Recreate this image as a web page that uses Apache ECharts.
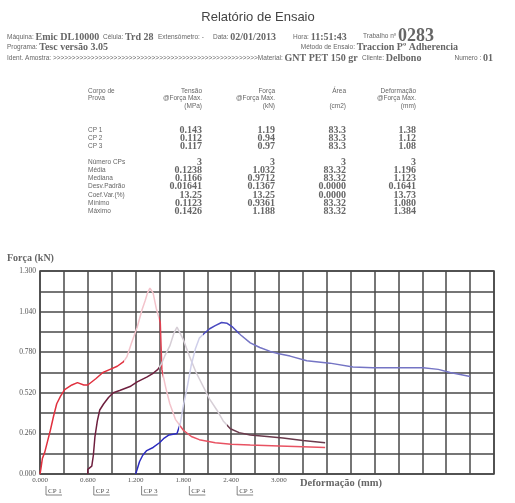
<!DOCTYPE html>
<html>
<head>
<meta charset="utf-8">
<script src="https://cdn.jsdelivr.net/npm/echarts@6/dist/echarts.min.js"></script>
<style>html,body{margin:0;padding:0;background:#fff;}#c{width:515px;height:503px;}</style>
</head>
<body>
<div id="c"></div>
<script>
// ---- table data ----
var cpLabels = ['CP 1', 'CP 2', 'CP 3'];
var cpTensao = ['0.143', '0.112', '0.117'];
var cpForca = ['1.19', '0.94', '0.97'];
var cpArea = ['83.3', '83.3', '83.3'];
var cpDeform = ['1.38', '1.12', '1.08'];
var statLabels = ['Número CPs', 'Média', 'Mediana', 'Desv.Padrão', 'Coef.Var.(%)', 'Mínimo', 'Máximo'];
var statTensao = ['3', '0.1238', '0.1166', '0.01641', '13.25', '0.1123', '0.1426'];
var statForca = ['3', '1.032', '0.9712', '0.1367', '13.25', '0.9361', '1.188'];
var statArea = ['3', '83.32', '83.32', '0.0000', '0.0000', '83.32', '83.32'];
var statDeform = ['3', '1.196', '1.123', '0.1641', '13.73', '1.080', '1.384'];

// ---- curve data: [deformação (mm), força (kN)] ----
var cp1 = [[0,0],[0.01,0.03],[0.03,0.1],[0.06,0.14],[0.1,0.22],[0.13,0.28],[0.17,0.37],[0.21,0.45],[0.26,0.5],[0.31,0.54],[0.4,0.57],[0.47,0.585],[0.55,0.57],[0.6,0.57],[0.7,0.61],[0.79,0.65],[0.88,0.67],[0.97,0.69],[1.05,0.72],[1.09,0.75],[1.15,0.84],[1.22,0.94],[1.28,1.05],[1.32,1.11],[1.35,1.16],[1.38,1.19],[1.42,1.16],[1.46,1.06],[1.51,0.97],[1.52,0.82],[1.53,0.67],[1.58,0.55],[1.63,0.45],[1.7,0.35],[1.8,0.28],[1.9,0.24],[2.0,0.22],[2.2,0.2],[2.4,0.19],[2.64,0.185],[3.0,0.18],[3.3,0.175],[3.58,0.17]];
var cp2 = [[0.6,0],[0.6,0.03],[0.62,0.04],[0.65,0.05],[0.67,0.12],[0.69,0.24],[0.72,0.34],[0.75,0.41],[0.8,0.45],[0.86,0.49],[0.92,0.52],[1.0,0.535],[1.13,0.56],[1.22,0.59],[1.34,0.62],[1.42,0.645],[1.48,0.67],[1.52,0.7],[1.57,0.76],[1.63,0.82],[1.68,0.9],[1.72,0.94],[1.8,0.86],[1.88,0.75],[1.96,0.65],[2.05,0.56],[2.13,0.48],[2.22,0.41],[2.3,0.34],[2.39,0.29],[2.5,0.265],[2.64,0.25],[2.85,0.24],[3.05,0.23],[3.3,0.215],[3.58,0.2]];
var cp3 = [[1.2,0],[1.22,0.03],[1.25,0.08],[1.29,0.12],[1.34,0.15],[1.42,0.17],[1.5,0.2],[1.56,0.23],[1.62,0.25],[1.72,0.26],[1.76,0.32],[1.8,0.44],[1.85,0.56],[1.9,0.7],[1.95,0.8],[2.0,0.87],[2.06,0.9],[2.13,0.93],[2.2,0.95],[2.28,0.97],[2.35,0.965],[2.42,0.94],[2.52,0.89],[2.64,0.84],[2.76,0.81],[2.89,0.785],[3.0,0.77],[3.14,0.755],[3.35,0.725],[3.64,0.71],[3.93,0.685],[4.18,0.68],[4.39,0.68],[4.81,0.68],[5.0,0.67],[5.15,0.65],[5.4,0.625]];
var legendLabels = ['CP 1', 'CP 2', 'CP 3', 'CP 4', 'CP 5'];
var legendX = [0, 0.6, 1.2, 1.8, 2.4];

var chart = echarts.init(document.getElementById('c'), null, {renderer: 'canvas'});

var SANS = 'Arial, "Liberation Sans", sans-serif';
var SERIF = '"Liberation Serif", "Times New Roman", serif';
var rich = {
  l: {fontFamily: SANS, fontSize: 6.5, color: '#666'},
  v: {fontFamily: SERIF, fontSize: 10, color: '#222', fontWeight: 'bold'},
  b: {fontFamily: SERIF, fontSize: 18, color: '#222', fontWeight: 'bold'}
};
function T(x, y, text, align, extra) {
  var st = {x: x, y: y, text: text, rich: rich, align: align || 'left', verticalAlign: 'middle', fontFamily: SANS, fontSize: 6.5, fill: '#666'};
  if (extra) for (var k in extra) st[k] = extra[k];
  return {type: 'text', style: st, silent: true};
}
var g = [];
g.push(T(258, 17, 'Relatório de Ensaio', 'center', {fontSize: 13, fill: '#444', rich: null}));
g.push(T(7, 37, '{l|Máquina: }{v|Emic DL10000}'));
g.push(T(103, 37, '{l|Célula: }{v|Trd 28}'));
g.push(T(158, 37, '{l|Extensômetro: -}'));
g.push(T(213, 37, '{l|Data: }{v|02/01/2013}'));
g.push(T(293, 37, '{l|Hora: }{v|11:51:43}'));
g.push(T(363, 36, '{l|Trabalho nº }{b|0283}'));
g.push(T(7, 47, '{l|Programa: }{v|Tesc versão 3.05}'));
g.push(T(458, 47, '{l|Método de Ensaio: }{v|Traccion Pº Adherencia}', 'right'));
var arrows = '';
for (var i = 0; i < 54; i++) arrows += '>';
g.push(T(7, 58, '{l|Ident. Amostra: ' + arrows + 'Material: }{v|GNT PET 150 gr}'));
g.push(T(362, 58, '{l|Cliente: }{v|Delbono}'));
g.push(T(493, 58, '{l|Numero : }{v|01}', 'right'));

// table header
var colX = [202, 275, 346, 416];
g.push(T(88, 91, 'Corpo de'));
g.push(T(88, 98, 'Prova'));
var hdr = [['Tensão', '@Força Max.', '(MPa)'], ['Força', '@Força Max.', '(kN)'], ['Área', '', '(cm2)'], ['Deformação', '@Força Max.', '(mm)']];
for (var c = 0; c < 4; c++) {
  g.push(T(colX[c], 91, hdr[c][0], 'right'));
  if (hdr[c][1]) g.push(T(colX[c], 98, hdr[c][1], 'right'));
  g.push(T(colX[c], 106, hdr[c][2], 'right'));
}
var cols1 = [cpTensao, cpForca, cpArea, cpDeform];
var rowsY1 = [130, 138, 146];
for (var r = 0; r < cpLabels.length; r++) {
  g.push(T(88, rowsY1[r], cpLabels[r]));
  for (var c2 = 0; c2 < 4; c2++) g.push(T(colX[c2], rowsY1[r], '{v|' + cols1[c2][r] + '}', 'right'));
}
var cols2 = [statTensao, statForca, statArea, statDeform];
var rowsY2 = [162, 170, 178, 186, 195, 203, 211];
for (var r2 = 0; r2 < statLabels.length; r2++) {
  g.push(T(88, rowsY2[r2], statLabels[r2]));
  for (var c3 = 0; c3 < 4; c3++) g.push(T(colX[c3], rowsY2[r2], '{v|' + cols2[c3][r2] + '}', 'right'));
}
// axis titles
g.push(T(7, 258, '{v|Força (kN)}'));
g.push(T(300, 483, '{v|Deformação (mm)}', 'left', {rich: {v: {fontFamily: SERIF, fontSize: 10.5, color: '#222', fontWeight: 'bold'}}}));

var option = {
  animation: false,
  backgroundColor: '#fff',
  grid: {left: 40, right: 21, top: 271, bottom: 29, show: true, borderColor: '#444', borderWidth: 1.5, backgroundColor: '#fff'},
  xAxis: {
    type: 'value', min: 0, max: 5.7, interval: 0.3,
    axisLine: {show: false}, axisTick: {show: false},
    splitLine: {show: true, lineStyle: {color: '#484848', width: 1.5}},
    axisLabel: {
      margin: 3, fontFamily: SERIF, fontSize: 7, color: '#555',
      formatter: function (v) { var k = Math.round(v / 0.3); return (k % 2 === 0 && k <= 10) ? v.toFixed(3) : ''; }
    }
  },
  yAxis: {
    type: 'value', min: 0, max: 1.3, interval: 0.13,
    axisLine: {show: false}, axisTick: {show: false},
    splitLine: {show: true, lineStyle: {color: '#484848', width: 1.5}},
    axisLabel: {
      margin: 4, fontFamily: SERIF, fontSize: 7.5, color: '#555',
      formatter: function (v) { var k = Math.round(v / 0.13); return (k % 2 === 0) ? v.toFixed(3) : ''; }
    }
  },
  visualMap: [
    {show: false, type: 'piecewise', dimension: 0, seriesIndex: 0, pieces: [
      {lt: 1.06, color: '#e0303e'}, {gte: 1.06, lt: 1.49, color: '#f3c3cb'}, {gte: 1.49, lt: 1.55, color: '#e04050'},
      {gte: 1.55, lt: 1.75, color: '#f3c3cb'}, {gte: 1.75, color: '#e85262'}]},
    {show: false, type: 'piecewise', dimension: 0, seriesIndex: 1, pieces: [
      {lt: 1.5, color: '#6e1f3e'}, {gte: 1.5, lt: 2.35, color: '#d6ced6'}, {gte: 2.35, color: '#6a3a4c'}]},
    {show: false, type: 'piecewise', dimension: 0, seriesIndex: 2, pieces: [
      {lt: 1.74, color: '#2c2cc0'}, {gte: 1.74, lt: 2.05, color: '#cfcfea'}, {gte: 2.05, lt: 2.5, color: '#4848c0'},
      {gte: 2.5, color: '#7474c4'}]}
  ],
  series: [
    {name: 'CP 1', type: 'line', data: cp1, showSymbol: false, lineStyle: {width: 1.5}, z: 3},
    {name: 'CP 2', type: 'line', data: cp2, showSymbol: false, lineStyle: {width: 1.5}, z: 3},
    {name: 'CP 3', type: 'line', data: cp3, showSymbol: false, lineStyle: {width: 1.5}, z: 3}
  ],
  graphic: g
};
chart.setOption(option);

// legend-like labels under the axis
var lg = [];
for (var j = 0; j < legendLabels.length; j++) {
  var px = chart.convertToPixel({gridIndex: 0}, [legendX[j], 0])[0];
  var x0 = px + 6;
  lg.push({type: 'text', silent: true, style: {x: x0 + 2, y: 491, text: legendLabels[j], fontFamily: SERIF, fontSize: 7, fill: '#555', verticalAlign: 'middle'}});
  lg.push({type: 'polyline', silent: true, shape: {points: [[x0, 486], [x0, 495], [x0 + 16, 495]]}, style: {stroke: '#666', lineWidth: 0.8, fill: null}});
}
chart.setOption({graphic: g.concat(lg)});
</script>
</body>
</html>
